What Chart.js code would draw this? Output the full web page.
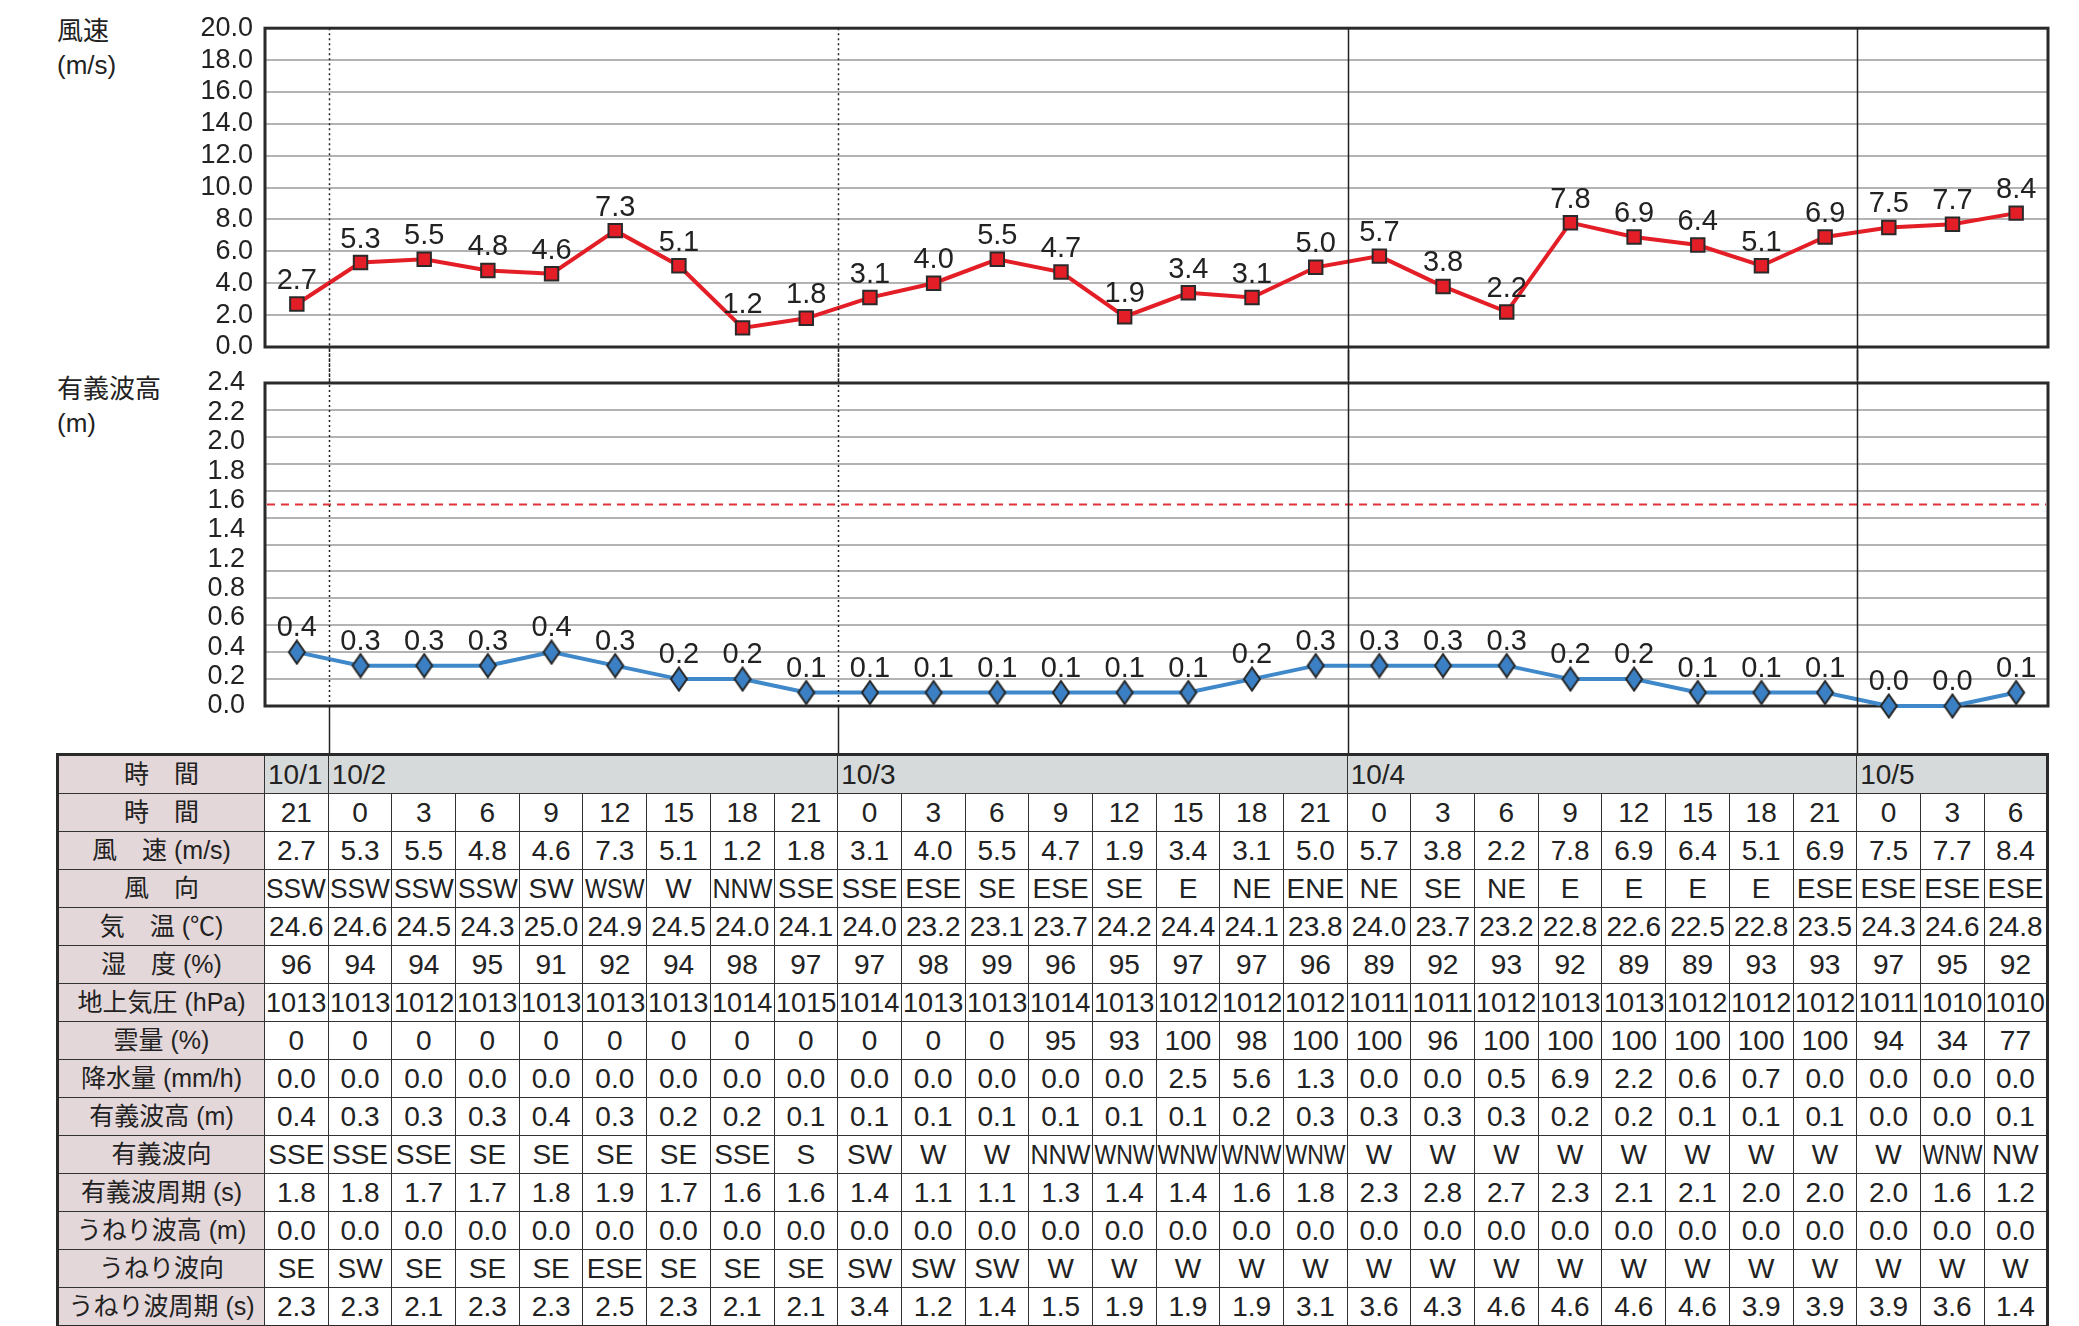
<!DOCTYPE html>
<html>
<head>
  <meta charset="utf-8">
  <title>風速・波高予測</title>
  <script src="https://cdn.jsdelivr.net/npm/chart.js"></script>
  <style>
    body { margin: 0; width: 2079px; height: 1326px; overflow: hidden; background: #fff; position: relative;
           font-family: "Liberation Sans", "Noto Sans CJK JP", sans-serif; color: #222; }
    canvas { position: absolute; left: 0; }
    #windChart { top: 0; }
    #waveChart { top: 350px; }
    .axisName { position: absolute; left: 57px; font-size: 26px; line-height: 34px; color: #222; }
    #tbl { position: absolute; left: 56px; top: 753px; border-collapse: collapse; table-layout: fixed;
           width: 1992px; border: 3px solid #2a2a2a; }
    #tbl td { border: 1.5px solid #333; padding: 0; height: 37px; text-align: center; font-size: 28px;
              white-space: nowrap; overflow: visible; line-height: 1; }
    #tbl td.lab { background: #e4d7d9; font-size: 25px; }
    #tbl td.day { background: #d6dada; text-align: left; padding-left: 3px; border-right-width: 0; }
    #tbl td.day + td.day { border-left: 1.5px solid #333; }
    #tbl span.fit { display: inline-block; transform-origin: 50% 50%; }
  </style>
</head>
<body>
  <div class="axisName" style="top:14px">風速<br>(m/s)</div>
  <div class="axisName" style="top:372px">有義波高<br>(m)</div>
  <canvas id="windChart" width="2079" height="380"></canvas>
  <canvas id="waveChart" width="2079" height="403"></canvas>
  <table id="tbl"></table>

  <script>
    // forecast times (3-hourly), grouped by day
    const HOURS = [21, 0, 3, 6, 9, 12, 15, 18, 21, 0, 3, 6, 9, 12, 15, 18, 21, 0, 3, 6, 9, 12, 15, 18, 21, 0, 3, 6];
    const DAY_LABELS = ['10/1', '10/2', '10/3', '10/4', '10/5'];
    const DAY_SPANS = [1, 8, 8, 8, 3];

    const WIND_SPEED = [2.7, 5.3, 5.5, 4.8, 4.6, 7.3, 5.1, 1.2, 1.8, 3.1, 4.0, 5.5, 4.7, 1.9, 3.4, 3.1, 5.0,
                        5.7, 3.8, 2.2, 7.8, 6.9, 6.4, 5.1, 6.9, 7.5, 7.7, 8.4];
    const WIND_DIR = ['SSW', 'SSW', 'SSW', 'SSW', 'SW', 'WSW', 'W', 'NNW', 'SSE', 'SSE', 'ESE', 'SE', 'ESE', 'SE',
                      'E', 'NE', 'ENE', 'NE', 'SE', 'NE', 'E', 'E', 'E', 'E', 'ESE', 'ESE', 'ESE', 'ESE'];
    const TEMP = [24.6, 24.6, 24.5, 24.3, 25.0, 24.9, 24.5, 24.0, 24.1, 24.0, 23.2, 23.1, 23.7, 24.2, 24.4, 24.1,
                  23.8, 24.0, 23.7, 23.2, 22.8, 22.6, 22.5, 22.8, 23.5, 24.3, 24.6, 24.8];
    const HUMIDITY = [96, 94, 94, 95, 91, 92, 94, 98, 97, 97, 98, 99, 96, 95, 97, 97, 96, 89, 92, 93, 92, 89, 89,
                      93, 93, 97, 95, 92];
    const PRESSURE = [1013, 1013, 1012, 1013, 1013, 1013, 1013, 1014, 1015, 1014, 1013, 1013, 1014, 1013, 1012,
                      1012, 1012, 1011, 1011, 1012, 1013, 1013, 1012, 1012, 1012, 1011, 1010, 1010];
    const CLOUD = [0, 0, 0, 0, 0, 0, 0, 0, 0, 0, 0, 0, 95, 93, 100, 98, 100, 100, 96, 100, 100, 100, 100, 100, 100,
                   94, 34, 77];
    const RAIN = [0.0, 0.0, 0.0, 0.0, 0.0, 0.0, 0.0, 0.0, 0.0, 0.0, 0.0, 0.0, 0.0, 0.0, 2.5, 5.6, 1.3, 0.0, 0.0,
                  0.5, 6.9, 2.2, 0.6, 0.7, 0.0, 0.0, 0.0, 0.0];
    const WAVE_HEIGHT = [0.4, 0.3, 0.3, 0.3, 0.4, 0.3, 0.2, 0.2, 0.1, 0.1, 0.1, 0.1, 0.1, 0.1, 0.1, 0.2, 0.3,
                         0.3, 0.3, 0.3, 0.2, 0.2, 0.1, 0.1, 0.1, 0.0, 0.0, 0.1];
    const WAVE_DIR = ['SSE', 'SSE', 'SSE', 'SE', 'SE', 'SE', 'SE', 'SSE', 'S', 'SW', 'W', 'W', 'NNW', 'WNW', 'WNW',
                      'WNW', 'WNW', 'W', 'W', 'W', 'W', 'W', 'W', 'W', 'W', 'W', 'WNW', 'NW'];
    const WAVE_PERIOD = [1.8, 1.8, 1.7, 1.7, 1.8, 1.9, 1.7, 1.6, 1.6, 1.4, 1.1, 1.1, 1.3, 1.4, 1.4, 1.6, 1.8,
                         2.3, 2.8, 2.7, 2.3, 2.1, 2.1, 2.0, 2.0, 2.0, 1.6, 1.2];
    const SWELL_HEIGHT = [0.0, 0.0, 0.0, 0.0, 0.0, 0.0, 0.0, 0.0, 0.0, 0.0, 0.0, 0.0, 0.0, 0.0, 0.0, 0.0, 0.0,
                          0.0, 0.0, 0.0, 0.0, 0.0, 0.0, 0.0, 0.0, 0.0, 0.0, 0.0];
    const SWELL_DIR = ['SE', 'SW', 'SE', 'SE', 'SE', 'ESE', 'SE', 'SE', 'SE', 'SW', 'SW', 'SW', 'W', 'W', 'W', 'W',
                       'W', 'W', 'W', 'W', 'W', 'W', 'W', 'W', 'W', 'W', 'W', 'W'];
    const SWELL_PERIOD = [2.3, 2.3, 2.1, 2.3, 2.3, 2.5, 2.3, 2.1, 2.1, 3.4, 1.2, 1.4, 1.5, 1.9, 1.9, 1.9, 3.1,
                          3.6, 4.3, 4.6, 4.6, 4.6, 4.6, 3.9, 3.9, 3.9, 3.6, 1.4];

    // wave axis labels as printed (1.0 is missing in the original)
    const WAVE_TICKS = ['0.0', '0.2', '0.4', '0.6', '0.8', '1.2', '1.4', '1.6', '1.8', '2.0', '2.2', '2.4'];
    const WAVE_WARN = 1.5;   // red dashed reference line

    const TXT = '#222';
    const FONT = { family: '"Liberation Sans", Arial, sans-serif', size: 27 };
    const GRID = { color: '#b3b3b3', lineWidth: 2, drawTicks: false };

    // day boundaries: index of first column of each new day
    const dayStarts = [];
    DAY_SPANS.reduce((acc, n, i) => { if (i > 0) dayStarts.push(acc); return acc + n; }, 0);

    const dayLines = {
      id: 'dayLines',
      afterDraw(chart, args, opts) {
        const { ctx, chartArea, scales } = chart;
        const half = (scales.x.getPixelForValue(1) - scales.x.getPixelForValue(0)) / 2;
        ctx.save();
        ctx.strokeStyle = '#222';
        ctx.lineWidth = 1.5;
        dayStarts.forEach((idx, k) => {
          const x = Math.round(scales.x.getPixelForValue(idx) - half) + 0.5;
          const dash = k < 2 ? [2, 3] : [];
          ctx.setLineDash(dash);
          ctx.beginPath();
          if (opts.wave) {
            ctx.moveTo(x, 0);
            ctx.lineTo(x, chartArea.bottom);
          } else {
            ctx.moveTo(x, chartArea.top);
            ctx.lineTo(x, chart.height);
          }
          ctx.stroke();
          if (opts.wave) {
            // below the wave chart the lines run solid down to the table
            ctx.setLineDash([]);
            ctx.beginPath();
            ctx.moveTo(x, chartArea.bottom);
            ctx.lineTo(x, chart.height);
            ctx.stroke();
          }
        });
        ctx.restore();
      }
    };

    const plotFrame = {
      id: 'plotFrame',
      beforeDatasetsDraw(chart) {
        const { ctx, chartArea: a } = chart;
        ctx.save();
        ctx.strokeStyle = '#2a2a2a';
        ctx.lineWidth = 3;
        ctx.strokeRect(a.left, a.top, a.right - a.left, a.bottom - a.top);
        ctx.restore();
      }
    };

    const valueLabels = {
      id: 'valueLabels',
      afterDatasetsDraw(chart, args, opts) {
        const { ctx } = chart;
        ctx.save();
        ctx.font = opts.size + 'px "Liberation Sans", Arial, sans-serif';
        ctx.fillStyle = TXT;
        ctx.textAlign = 'center';
        ctx.textBaseline = 'alphabetic';
        const ds = chart.data.datasets[0];
        chart.getDatasetMeta(0).data.forEach((pt, i) => {
          ctx.fillText(ds.data[i].toFixed(1), pt.x, pt.y - opts.lift);
        });
        ctx.restore();
      }
    };

    const warnLine = {
      id: 'warnLine',
      beforeDatasetsDraw(chart) {
        const { ctx, chartArea: a, scales } = chart;
        const y = Math.round(scales.y.getPixelForValue(WAVE_WARN)) + 0.5;
        ctx.save();
        ctx.strokeStyle = '#df3339';
        ctx.lineWidth = 2;
        ctx.setLineDash([8, 6]);
        ctx.beginPath();
        ctx.moveTo(a.left + 2, y);
        ctx.lineTo(a.right - 2, y);
        ctx.stroke();
        ctx.restore();
      }
    };

    // tall diamond marker
    const diamond = document.createElement('canvas');
    diamond.width = 20; diamond.height = 26;
    (function () {
      const c = diamond.getContext('2d');
      c.beginPath();
      c.moveTo(10, 1.5); c.lineTo(18, 13); c.lineTo(10, 24.5); c.lineTo(2, 13); c.closePath();
      c.fillStyle = '#3b80c4';
      c.fill();
      c.lineWidth = 2;
      c.strokeStyle = '#262626';
      c.stroke();
    })();

    new Chart(document.getElementById('windChart'), {
      type: 'line',
      data: {
        labels: HOURS,
        datasets: [{
          data: WIND_SPEED,
          borderColor: '#e41e26',
          borderWidth: 4,
          pointStyle: 'rect',
          pointRadius: 9.5,
          pointBackgroundColor: '#e41e26',
          pointBorderColor: '#2a2a2a',
          pointBorderWidth: 2,
          tension: 0,
          clip: false
        }]
      },
      options: {
        responsive: false,
        animation: false,
        layout: { padding: { top: 27, right: 31, bottom: 33, left: 0 } },
        plugins: {
          legend: { display: false },
          tooltip: { enabled: false },
          valueLabels: { size: 29, lift: 15 },
          dayLines: { wave: false }
        },
        scales: {
          x: { display: false, offset: true },
          y: {
            min: 0, max: 20,
            ticks: { stepSize: 2, autoSkip: false, callback: v => v.toFixed(1), font: FONT, color: TXT, padding: 12 },
            grid: GRID,
            border: { display: false },
            afterFit: s => { s.width = 265; }
          }
        }
      },
      plugins: [plotFrame, dayLines, valueLabels]
    });

    new Chart(document.getElementById('waveChart'), {
      type: 'line',
      data: {
        labels: HOURS,
        datasets: [{
          data: WAVE_HEIGHT,
          borderColor: '#3f88c9',
          borderWidth: 4,
          pointStyle: diamond,
          pointRadius: 10,
          tension: 0,
          clip: false
        }]
      },
      options: {
        responsive: false,
        animation: false,
        layout: { padding: { top: 33, right: 31, bottom: 47, left: 0 } },
        plugins: {
          legend: { display: false },
          tooltip: { enabled: false },
          valueLabels: { size: 29, lift: 16 },
          dayLines: { wave: true }
        },
        scales: {
          x: { display: false, offset: true },
          y: {
            min: 0, max: 2.4,
            ticks: { stepSize: 0.2, display: false },
            grid: GRID,
            border: { display: false },
            afterFit: s => { s.width = 0; }
          },
          yLab: {
            position: 'left',
            min: 0, max: WAVE_TICKS.length - 1,
            ticks: { stepSize: 1, autoSkip: false, callback: v => WAVE_TICKS[v], font: FONT, color: TXT, padding: 12 },
            grid: { display: false },
            border: { display: false },
            afterFit: s => { s.width = 265; }
          }
        }
      },
      plugins: [plotFrame, warnLine, dayLines, valueLabels]
    });

    // ---- data table under the charts ----
    const f1 = v => v.toFixed(1);
    const rows = [
      ['時　間', HOURS.map(String)],
      ['風　速 (m/s)', WIND_SPEED.map(f1)],
      ['風　向', WIND_DIR],
      ['気　温 (℃)', TEMP.map(f1)],
      ['湿　度 (%)', HUMIDITY.map(String)],
      ['地上気圧 (hPa)', PRESSURE.map(String)],
      ['雲量 (%)', CLOUD.map(String)],
      ['降水量 (mm/h)', RAIN.map(f1)],
      ['有義波高 (m)', WAVE_HEIGHT.map(f1)],
      ['有義波向', WAVE_DIR],
      ['有義波周期 (s)', WAVE_PERIOD.map(f1)],
      ['うねり波高 (m)', SWELL_HEIGHT.map(f1)],
      ['うねり波向', SWELL_DIR],
      ['うねり波周期 (s)', SWELL_PERIOD.map(f1)]
    ];

    const tbl = document.getElementById('tbl');
    let html = '<colgroup><col style="width:207px">' + '<col style="width:63.7px">'.repeat(HOURS.length) + '</colgroup>';
    html += '<tr><td class="lab">時　間</td>' +
      DAY_LABELS.map((d, i) => `<td class="day" colspan="${DAY_SPANS[i]}">${d}</td>`).join('') + '</tr>';
    rows.forEach(([label, vals]) => {
      html += `<tr><td class="lab"><span class="fit">${label}</span></td>` +
        vals.map(v => `<td><span class="fit">${v}</span></td>`).join('') + '</tr>';
    });
    tbl.innerHTML = html;

    // squeeze text that is wider than its cell, like the printed table
    tbl.querySelectorAll('span.fit').forEach(sp => {
      const avail = sp.parentElement.clientWidth - 3;
      const w = sp.offsetWidth;
      if (w > avail) {
        const m = -(w - avail) / 2;
        sp.style.margin = `0 ${m}px`;
        sp.style.transform = `scaleX(${avail / w})`;
      }
    });
  </script>
</body>
</html>
